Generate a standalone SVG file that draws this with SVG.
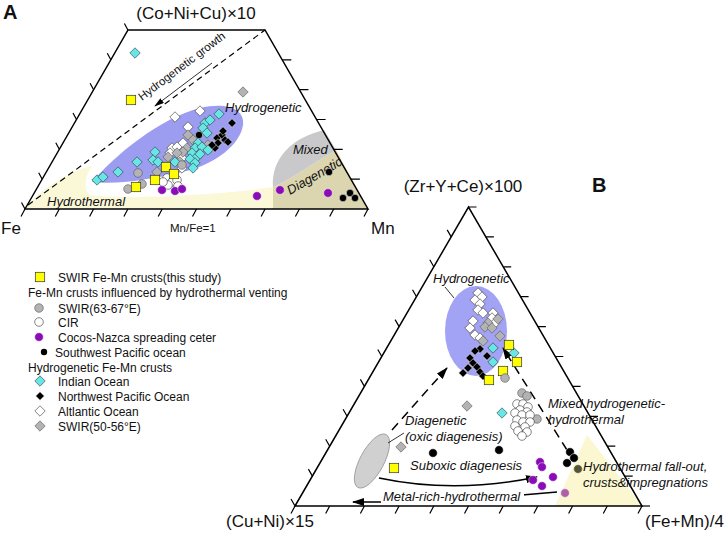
<svg xmlns="http://www.w3.org/2000/svg" xmlns:xlink="http://www.w3.org/1999/xlink" width="726" height="533" viewBox="0 0 726 533">
<style>
text{font-family:"Liberation Sans",Arial,sans-serif;fill:#111}
.lab{font-size:17px}
.it{font-style:italic;font-size:13px}
.leg{font-size:12px}
.ax{fill:none;stroke:#000;stroke-width:1.5}
.tk{fill:none;stroke:#000;stroke-width:1.2}
.cy{fill:#66e6e6;stroke:#333;stroke-width:0.6}
.wh{fill:#fff;stroke:#333;stroke-width:0.6}
.gr{fill:#b3b3b3;stroke:#555;stroke-width:0.6}
.bk{fill:#000;stroke:#fff;stroke-width:0.5}
.ye{fill:#ffff00;stroke:#333;stroke-width:0.7}
.pu{fill:#8a0cb8;stroke:#eee;stroke-width:0.5}
.ol{fill:#555533;stroke:#eee;stroke-width:0.5}
.pk{fill:#b060a8;stroke:#eee;stroke-width:0.5}
.dash{fill:none;stroke:#000;stroke-width:1.5;stroke-dasharray:9 6}
.ln{fill:none;stroke:#000}
</style>
<defs>
<path id="dm" d="M0,-5.2L5.2,0L0,5.2L-5.2,0Z"/>
<path id="dms" d="M0,-4.3L4.3,0L0,4.3L-4.3,0Z"/>
<rect id="sq" x="-4.7" y="-4.7" width="9.4" height="9.4"/>
<circle id="ci" r="4.3"/>
<circle id="cs" r="3.7"/>
<marker id="ah" markerWidth="12" markerHeight="8" refX="11" refY="4" orient="auto" markerUnits="userSpaceOnUse"><path d="M0,0L12,4L0,8Z" fill="#000"/></marker>
<marker id="ahs" markerWidth="10" markerHeight="6" refX="9" refY="3" orient="auto" markerUnits="userSpaceOnUse"><path d="M0,0L10,3L0,6Z" fill="#000"/></marker>
</defs>
<rect width="726" height="533" fill="#fff"/>

<!-- Panel A -->
<g id="panelA-regions">
<g id="regionA-hydrothermal"><path d="M25,209L368,209L336,150C310,165 290,180 273,187C220,195 130,200 90,195C83,190 85,175 92,166C70,170 40,190 25,209Z" fill="#fbf8d8"/></g>
<g id="regionA-diagenetic"><path d="M273,209L368,209L336,150C310,165 290,180 273,187Z" fill="#dcd6b0"/></g>
<g id="regionA-mixed"><path d="M273,187C271,160 290,138 324,130L336,150C310,165 290,180 273,187Z" fill="#c9c9cb"/></g>
<g id="regionA-hydrogenetic"><path d="M92,182C115,155 160,118 200,108C225,102 245,108 243,125C240,145 215,163 190,170C160,178 120,185 92,182Z" fill="#9c9cf0"/></g>
</g>
<g id="axesA">
<polygon class="ax" points="25,209 128,30 265,30 368,209"/>
<path class="tk" d="M25,209l-4,7.5M59.3,209l-4,7.5M93.6,209l-4,7.5M127.9,209l-4,7.5M162.2,209l-4,7.5M196.5,209l-4,7.5M230.8,209l-4,7.5M265.1,209l-4,7.5M299.4,209l-4,7.5M333.7,209l-4,7.5M368,209l-4,7.5"/>
<path class="tk" d="M25,209l-3.5,-6.5M42.2,179.2l-3.5,-6.5M59.3,149.3l-3.5,-6.5M76.5,119.5l-3.5,-6.5M93.6,89.7l-3.5,-6.5M110.8,59.8l-3.5,-6.5M127.9,30l-3.5,-6.5"/>
<path class="tk" d="M350.9,179.2h9M333.7,149.3h9M316.6,119.5h9M299.4,89.7h9M282.3,59.8h9"/>
</g>
<g id="labelsA">
<text x="3" y="19" style="font-size:20px;font-weight:bold">A</text>
<text class="lab" x="196" y="19" text-anchor="middle">(Co+Ni+Cu)×10</text>
<text class="lab" x="1" y="234">Fe</text>
<text class="lab" x="371" y="234">Mn</text>
<text x="170" y="232" style="font-size:11.5px">Mn/Fe=1</text>
<text class="it" x="225" y="112">Hydrogenetic</text>
<text class="it" x="293" y="154">Mixed</text>
<text class="it" transform="translate(290,195) rotate(-30)">Diagenetic</text>
<text class="it" x="47" y="206">Hydrothermal</text>
<text transform="translate(142,101) rotate(-37)" style="font-size:11.5px">Hydrogenetic growth</text>
</g>
<g id="pointsA">
<use href="#dm" x="135" y="53" class="cy"/>
<use href="#dm" x="243" y="92" class="gr"/>
<use href="#dm" x="175" y="117" class="wh"/>
<use href="#dm" x="200" y="111" class="wh"/>
<use href="#dm" x="188" y="127" class="wh"/>
<use href="#dm" x="183" y="143" class="wh"/>
<use href="#dm" x="172" y="148" class="wh"/>
<use href="#dm" x="177" y="147" class="wh"/>
<use href="#dm" x="170" y="153" class="wh"/>
<use href="#dm" x="180" y="155" class="wh"/>
<use href="#dm" x="182" y="158" class="wh"/>
<use href="#dm" x="182" y="168" class="wh"/>
<use href="#dm" x="188" y="135" class="gr"/>
<use href="#dm" x="193" y="140" class="gr"/>
<use href="#dm" x="208" y="145" class="gr"/>
<use href="#dm" x="187" y="148" class="gr"/>
<use href="#dm" x="183" y="152" class="gr"/>
<use href="#dm" x="168" y="157" class="gr"/>
<use href="#dm" x="177" y="153" class="gr"/>
<use href="#dm" x="180" y="162" class="gr"/>
<use href="#dm" x="157" y="172" class="gr"/>
<use href="#dm" x="219" y="114" class="cy"/>
<use href="#dm" x="205" y="123" class="cy"/>
<use href="#dm" x="210" y="120" class="cy"/>
<use href="#dm" x="203" y="128" class="cy"/>
<use href="#dm" x="207" y="133" class="cy"/>
<use href="#dm" x="198" y="143" class="cy"/>
<use href="#dm" x="195" y="148" class="cy"/>
<use href="#dm" x="202" y="147" class="cy"/>
<use href="#dm" x="208" y="150" class="cy"/>
<use href="#dm" x="155" y="152" class="cy"/>
<use href="#dm" x="153" y="160" class="cy"/>
<use href="#dm" x="158" y="162" class="cy"/>
<use href="#dm" x="137" y="162" class="cy"/>
<use href="#dm" x="192" y="153" class="cy"/>
<use href="#dm" x="197" y="157" class="cy"/>
<use href="#dm" x="190" y="159" class="cy"/>
<use href="#dm" x="200" y="154" class="cy"/>
<use href="#dm" x="195" y="163" class="cy"/>
<use href="#dm" x="193" y="168" class="cy"/>
<use href="#dm" x="175" y="162" class="cy"/>
<use href="#dm" x="118" y="172" class="cy"/>
<use href="#dm" x="97" y="180" class="cy"/>
<use href="#dm" x="103" y="177" class="cy"/>
<use href="#dms" x="232" y="123" class="bk"/>
<use href="#dms" x="217" y="138" class="bk"/>
<use href="#dms" x="222" y="135" class="bk"/>
<use href="#dms" x="225" y="140" class="bk"/>
<use href="#dms" x="228" y="142" class="bk"/>
<use href="#dms" x="223" y="131" class="bk"/>
<use href="#dms" x="218" y="143" class="bk"/>
<use href="#dms" x="215" y="148" class="bk"/>
<use href="#dms" x="212" y="145" class="bk"/>
<use href="#cs" x="199" y="135" class="bk"/>
<use href="#ci" x="138" y="173" class="gr"/>
<use href="#ci" x="128" y="189" class="gr"/>
<use href="#ci" x="142" y="184" class="gr"/>
<use href="#ci" x="182" y="165" class="gr"/>
<use href="#ci" x="167" y="178" class="wh"/>
<use href="#ci" x="172" y="182" class="wh"/>
<use href="#ci" x="177" y="180" class="wh"/>
<use href="#ci" x="168" y="185" class="wh"/>
<use href="#ci" x="163" y="182" class="wh"/>
<use href="#ci" x="178" y="186" class="wh"/>
<use href="#sq" x="131" y="100" class="ye"/>
<use href="#sq" x="166" y="167" class="ye"/>
<use href="#sq" x="174" y="174" class="ye"/>
<use href="#sq" x="155" y="180" class="ye"/>
<use href="#sq" x="136" y="187" class="ye"/>
<use href="#ci" x="162" y="190" class="pu"/>
<use href="#ci" x="175" y="191" class="pu"/>
<use href="#ci" x="182" y="189" class="pu"/>
<use href="#ci" x="257" y="196" class="pu"/>
<use href="#ci" x="280" y="190" class="pu"/>
<use href="#ci" x="328" y="193" class="pu"/>
<use href="#cs" x="329" y="172" class="bk"/>
<use href="#cs" x="343" y="198" class="bk"/>
<use href="#cs" x="350" y="193" class="bk"/>
<use href="#cs" x="355" y="198" class="bk"/>
</g>

<!-- Legend -->
<g id="legend">
<use href="#sq" x="40" y="277" class="ye"/>
<text class="leg" x="58" y="282">SWIR Fe-Mn crusts(this study)</text>
<text class="leg" x="28" y="297">Fe-Mn crusts influenced by hydrothermal venting</text>
<use href="#ci" x="39" y="308" class="gr"/>
<text class="leg" x="58" y="313">SWIR(63-67°E)</text>
<use href="#ci" x="39" y="322" class="wh"/>
<text class="leg" x="58" y="327">CIR</text>
<use href="#ci" x="39" y="337" class="pu"/>
<text class="leg" x="58" y="342">Cocos-Nazca spreading ceter</text>
<circle cx="44" cy="352" r="3.2" fill="#000"/>
<text class="leg" x="55" y="357">Southwest Pacific ocean</text>
<text class="leg" x="28" y="372">Hydrogenetic Fe-Mn crusts</text>
<use href="#dm" x="40" y="381" class="cy"/>
<text class="leg" x="58" y="386">Indian Ocean</text>
<use href="#dms" x="40" y="396" class="bk"/>
<text class="leg" x="58" y="401">Northwest Pacific Ocean</text>
<use href="#dm" x="40" y="411" class="wh"/>
<text class="leg" x="58" y="416">Altlantic Ocean</text>
<use href="#dm" x="40" y="426" class="gr"/>
<text class="leg" x="58" y="431">SWIR(50-56°E)</text>
</g>

<!-- Panel B -->
<g id="panelB-regions">
<g id="regionB-hydrothermal"><polygon points="555,506 587,435 642,506" fill="#fbf7d0"/></g>
<g id="regionB-hydrogenetic"><ellipse cx="476" cy="331" rx="31" ry="45" fill="#a3a3f5"/></g>
<g id="regionB-diagenetic"><ellipse cx="372" cy="461" rx="30" ry="12" transform="rotate(-62 372 461)" fill="#d0d0d0" stroke="#999" stroke-width="0.8"/></g>
</g>
<g id="axesB">
<polygon class="ax" points="295,506 468.5,207 642,506"/>
<path class="tk" d="M642,506h8"/>
<path class="tk" d="M295,506l-4,7.5M329.7,506l-4,7.5M364.4,506l-4,7.5M399.1,506l-4,7.5M433.8,506l-4,7.5M468.5,506l-4,7.5M503.2,506l-4,7.5M537.9,506l-4,7.5M572.6,506l-4,7.5M607.3,506l-4,7.5M642,506l-4,7.5"/>
<path class="tk" d="M295,506l-4,-7M312.4,476.1l-4,-7M329.7,446.2l-4,-7M347.1,416.3l-4,-7M364.4,386.4l-4,-7M381.8,356.5l-4,-7M399.1,326.6l-4,-7M416.5,296.7l-4,-7M433.8,266.8l-4,-7M451.2,236.9l-4,-7"/>
<path class="tk" d="M624.7,476.1h8M607.3,446.2h8M590,416.3h8M572.6,386.4h8M555.3,356.5h8M537.9,326.6h8M520.6,296.7h8M503.2,266.8h8M485.9,236.9h8M468.5,207h8"/>
</g>
<g id="connectors">
<path d="M212,63L155,106" class="ln" stroke-width="0.8" marker-end="url(#ahs)"/>
<path d="M28,205L265,30" class="ln" stroke-width="1.2" stroke-dasharray="6 4"/>
<path d="M392,430L447,368" class="dash" marker-end="url(#ah)"/>
<path d="M567,450L503,348" class="dash" marker-end="url(#ah)"/>
<path d="M379,478Q455,494 537,477" class="ln" stroke-width="1.6" marker-end="url(#ah)"/>
<path d="M557,492L522,495L383,502L353,502" class="ln" stroke-width="1.6" marker-end="url(#ah)"/>
<path d="M445,287L454,298" class="ln" stroke="#666" stroke-width="0.8"/>
<path d="M388,443L404,433" class="ln" stroke="#666" stroke-width="0.8"/>
</g>
<g id="pointsB">
<use href="#dm" x="478" y="293" class="wh"/>
<use href="#dm" x="482" y="297" class="wh"/>
<use href="#dm" x="475" y="300" class="wh"/>
<use href="#dm" x="480" y="304" class="wh"/>
<use href="#dm" x="478" y="310" class="wh"/>
<use href="#dm" x="473" y="321" class="wh"/>
<use href="#dm" x="470" y="328" class="wh"/>
<use href="#dm" x="483" y="313" class="wh"/>
<use href="#dm" x="493" y="313" class="wh"/>
<use href="#dm" x="492" y="318" class="wh"/>
<use href="#dm" x="495" y="323" class="wh"/>
<use href="#dm" x="475" y="335" class="wh"/>
<use href="#dm" x="480" y="338" class="wh"/>
<use href="#dm" x="498" y="319" class="gr"/>
<use href="#dm" x="488" y="323" class="gr"/>
<use href="#dm" x="485" y="327" class="gr"/>
<use href="#dm" x="492" y="328" class="gr"/>
<use href="#dm" x="500" y="336" class="gr"/>
<use href="#dm" x="483" y="341" class="gr"/>
<use href="#dm" x="467" y="406" class="gr"/>
<use href="#dm" x="401" y="447" class="gr"/>
<use href="#dms" x="480" y="349" class="bk"/>
<use href="#dms" x="475" y="351" class="bk"/>
<use href="#dms" x="470" y="358" class="bk"/>
<use href="#dms" x="487" y="356" class="bk"/>
<use href="#dms" x="473" y="363" class="bk"/>
<use href="#dms" x="477" y="367" class="bk"/>
<use href="#dms" x="468" y="368" class="bk"/>
<use href="#dms" x="463" y="373" class="bk"/>
<use href="#dms" x="480" y="372" class="bk"/>
<use href="#dms" x="483" y="376" class="bk"/>
<use href="#dm" x="493" y="348" class="cy"/>
<use href="#dm" x="493" y="362" class="cy"/>
<use href="#dm" x="514" y="353" class="cy"/>
<use href="#dm" x="502" y="413" class="cy"/>
<use href="#sq" x="509" y="345" class="ye"/>
<use href="#sq" x="517" y="362" class="ye"/>
<use href="#sq" x="503" y="371" class="ye"/>
<use href="#sq" x="489" y="380" class="ye"/>
<use href="#sq" x="394" y="468" class="ye"/>
<use href="#ci" x="505" y="378" class="gr"/>
<use href="#ci" x="522" y="393" class="gr"/>
<use href="#ci" x="527" y="396" class="gr"/>
<use href="#ci" x="537" y="419" class="gr"/>
<use href="#ci" x="517" y="404" class="wh"/>
<use href="#ci" x="523" y="404" class="wh"/>
<use href="#ci" x="528" y="407" class="wh"/>
<use href="#ci" x="520" y="410" class="wh"/>
<use href="#ci" x="527" y="412" class="wh"/>
<use href="#ci" x="515" y="413" class="wh"/>
<use href="#ci" x="522" y="415" class="wh"/>
<use href="#ci" x="530" y="415" class="wh"/>
<use href="#ci" x="517" y="420" class="wh"/>
<use href="#ci" x="523" y="422" class="wh"/>
<use href="#ci" x="530" y="422" class="wh"/>
<use href="#ci" x="515" y="426" class="wh"/>
<use href="#ci" x="525" y="427" class="wh"/>
<use href="#ci" x="518" y="431" class="wh"/>
<use href="#ci" x="527" y="432" class="wh"/>
<use href="#ci" x="522" y="436" class="wh"/>
<use href="#ci" x="433" y="453" class="bk"/>
<use href="#ci" x="499" y="450" class="bk"/>
<use href="#ci" x="570" y="452" class="bk"/>
<use href="#ci" x="574" y="458" class="bk"/>
<use href="#ci" x="567" y="463" class="bk"/>
<use href="#ci" x="578" y="469" class="ol"/>
<use href="#ci" x="565" y="493" class="pk"/>
<use href="#ci" x="540" y="462" class="pu"/>
<use href="#ci" x="542" y="467" class="pu"/>
<use href="#ci" x="553" y="477" class="pu"/>
<use href="#ci" x="533" y="480" class="pu"/>
<use href="#ci" x="542" y="486" class="pu"/>
</g>
<g id="labelsB">
<text x="592" y="192" style="font-size:20px;font-weight:bold">B</text>
<text class="lab" x="463" y="192" text-anchor="middle">(Zr+Y+Ce)×100</text>
<text class="lab" x="226" y="527">(Cu+Ni)×15</text>
<text class="lab" x="645" y="527">(Fe+Mn)/4</text>
<text class="it" x="433" y="283">Hydrogenetic</text>
<text class="it" x="548" y="408">Mixed hydrogenetic-</text>
<text class="it" x="548" y="424">hydrothermal</text>
<text class="it" x="405" y="425">Diagenetic</text>
<text class="it" x="405" y="441">(oxic diagenesis)</text>
<text class="it" x="410" y="470">Suboxic diagenesis</text>
<text class="it" x="583" y="471">Hydrothermal fall-out,</text>
<text class="it" x="583" y="487">crusts&amp;impregnations</text>
<rect x="381" y="489" width="143" height="15" fill="#fff"/>
<text class="it" x="383" y="501">Metal-rich-hydrothermal</text>
</g>
</svg>
